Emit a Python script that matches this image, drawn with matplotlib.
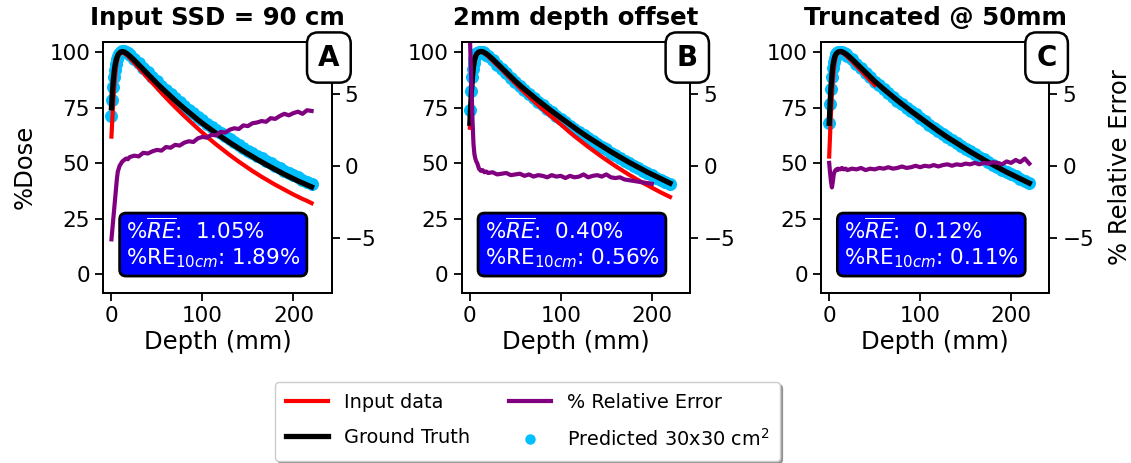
import matplotlib
matplotlib.use("Agg")
import matplotlib.pyplot as plt
from matplotlib.lines import Line2D

# ---------------- data ----------------
depth = [0, 1, 2, 3, 4, 5, 6, 7, 8, 9, 10, 12, 14, 16, 18, 20,
         25, 30, 35, 40, 45, 50, 55, 60, 65, 70, 75, 80, 85, 90, 95, 100,
         105, 110, 115, 120, 125, 130, 135, 140, 145, 150, 155, 160, 165, 170, 175, 180,
         185, 190, 195, 200, 205, 210, 215, 220]

gt_a = [75.0, 82.0, 87.5, 91.5, 94.3, 96.3, 97.7, 98.7, 99.4, 99.8, 100.1, 100.4, 100.2, 99.7, 99.1, 98.4,
        96.5, 94.4, 92.3, 90.2, 88.1, 86.0, 84.0, 82.1, 80.2, 78.3, 76.5, 74.7, 73.0, 71.3, 69.6, 68.0,
        66.5, 65.0, 63.5, 62.1, 60.7, 59.3, 58.0, 56.7, 55.4, 54.2, 53.0, 51.7, 50.6, 49.4, 48.3, 47.2,
        46.1, 45.0, 44.0, 43.0, 42.0, 41.1, 40.2, 39.3]

gt_bc = [68.0, 77.0, 84.5, 90.0, 93.8, 96.3, 97.9, 98.9, 99.5, 99.9, 100.2, 100.4, 100.3, 99.9, 99.4, 98.8,
         97.0, 95.0, 93.0, 91.0, 89.0, 87.0, 85.2, 83.4, 81.7, 80.0, 78.3, 76.7, 75.1, 73.5, 72.0, 70.5,
         69.0, 67.5, 66.0, 64.5, 63.1, 61.7, 60.4, 59.1, 57.8, 56.5, 55.2, 54.0, 52.8, 51.6, 50.4, 49.3,
         48.2, 47.1, 46.0, 45.0, 44.0, 43.0, 42.0, 41.0]

pred_a = [71.2, 78.4, 84.3, 88.8, 92.1, 94.8, 96.8, 98.3, 99.2, 99.8, 100.2, 100.7, 100.6, 100.2, 99.5, 99.0,
          97.2, 95.0, 93.1, 91.0, 89.0, 86.9, 84.9, 83.2, 81.2, 79.4, 77.6, 75.9, 74.2, 72.5, 70.9, 69.4,
          67.8, 66.4, 64.8, 63.6, 62.1, 60.8, 59.5, 58.1, 57.0, 55.7, 54.6, 53.3, 52.2, 50.9, 49.9, 48.7,
          47.7, 46.6, 45.5, 44.6, 43.6, 42.6, 41.7, 40.8]

pred_b = [74.1, 82.4, 88.7, 92.7, 95.2, 97.1, 98.4, 99.2, 99.7, 99.9, 100.0, 100.2, 100.0, 99.5, 99.0, 98.3,
          96.6, 94.4, 92.5, 90.5, 88.4, 86.5, 84.7, 82.8, 81.2, 79.4, 77.8, 76.2, 74.5, 73.0, 71.5, 70.0,
          68.4, 67.0, 65.4, 64.0, 62.7, 61.2, 60.0, 58.7, 57.3, 56.2, 54.8, 53.5, 52.3, 51.1, 49.9, 48.8,
          47.7, 46.6, 45.5, 44.5, 43.5, 42.5, 41.5, 40.6]

pred_c = [68.1, 76.5, 83.5, 88.7, 92.8, 95.7, 97.5, 98.6, 99.3, 99.6, 100.0, 100.2, 100.2, 99.7, 99.2, 98.5,
          96.8, 94.8, 92.9, 90.7, 88.8, 86.8, 85.1, 83.3, 81.6, 79.8, 78.2, 76.6, 75.0, 73.5, 72.0, 70.4,
          69.0, 67.4, 66.0, 64.5, 63.2, 61.8, 60.4, 59.1, 57.8, 56.6, 55.3, 54.1, 52.8, 51.7, 50.5, 49.4,
          48.3, 47.1, 46.2, 45.1, 44.1, 43.1, 42.2, 41.1]

input_a = [62.0, 70.0, 78.0, 84.5, 89.5, 93.2, 95.8, 97.6, 98.8, 99.5, 99.9, 100.0, 99.6, 99.0, 98.3, 97.5,
           95.3, 93.0, 90.7, 88.4, 86.2, 84.0, 81.7, 79.5, 77.4, 75.3, 73.3, 71.3, 69.4, 67.5, 65.6, 63.8,
           62.0, 60.2, 58.5, 56.9, 55.3, 53.7, 52.2, 50.7, 49.3, 47.9, 46.5, 45.2, 43.9, 42.7, 41.5, 40.3,
           39.2, 38.1, 37.0, 35.9, 34.9, 33.9, 33.0, 32.0]

input_b = [66.0, 74.0, 81.5, 87.5, 92.0, 95.0, 97.2, 98.6, 99.4, 99.8, 100.0, 100.3, 100.1, 99.6, 98.9, 98.2,
           96.2, 94.2, 92.2, 90.1, 88.0, 86.0, 83.9, 81.9, 80.0, 78.1, 76.2, 74.4, 72.6, 70.9, 69.2, 67.5,
           65.7, 63.9, 62.2, 60.6, 59.0, 57.4, 55.9, 54.4, 52.9, 51.5, 50.1, 48.7, 47.4, 46.1, 44.8, 43.6,
           42.4, 41.2, 40.1, 39.0, 37.9, 36.8, 35.8, 34.8]

depth_c_input = [0, 1, 2, 3, 4, 5, 6, 7, 8, 9, 10, 12, 14, 16, 18, 20, 25, 30, 35, 40, 45, 50]
input_c = [53.0, 63.0, 73.0, 81.0, 87.5, 92.0, 95.3, 97.5, 98.8, 99.6, 100.0, 100.3, 100.0, 99.4, 98.7, 98.0,
           96.0, 93.8, 91.7, 89.5, 87.4, 85.3]

re_a = [-5.1, -4.4, -3.7, -3.0, -2.3, -1.6, -0.9, -0.4, -0.2, 0.0, 0.1, 0.3, 0.4, 0.5, 0.45, 0.6,
        0.7, 0.65, 0.9, 0.85, 1.0, 1.1, 1.05, 1.3, 1.25, 1.45, 1.4, 1.6, 1.7, 1.65, 1.9, 2.0,
        1.95, 2.15, 2.1, 2.35, 2.3, 2.5, 2.6, 2.55, 2.8, 2.75, 2.95, 3.0, 3.1, 3.05, 3.3, 3.25,
        3.45, 3.6, 3.5, 3.65, 3.75, 3.6, 3.85, 3.8]

depth_b_re = [0, 1, 2, 3, 4, 5, 6, 7, 8, 9, 10, 12, 14, 16, 18, 20,
              25, 30, 35, 40, 45, 50, 55, 60, 65, 70, 75, 80, 85, 90, 95, 100,
              105, 110, 115, 120, 125, 130, 135, 140, 145, 150, 155, 160, 165, 170, 175, 180,
              185, 190, 195, 200]
re_b = [9.0, 7.0, 5.0, 3.0, 1.5, 0.8, 0.5, 0.3, 0.2, 0.0, -0.2, -0.35, -0.3, -0.45, -0.4, -0.5,
        -0.45, -0.6, -0.55, -0.5, -0.65, -0.6, -0.55, -0.7, -0.6, -0.75, -0.65, -0.7, -0.8, -0.65, -0.75, -0.7,
        -0.85, -0.7, -0.8, -0.75, -0.6, -0.8, -0.7, -0.65, -0.75, -0.6, -0.8, -0.85, -0.8, -0.95, -1.0, -1.05,
        -1.1, -1.15, -1.2, -1.25]

re_c = [0.2, -0.5, -1.1, -1.5, -1.1, -0.6, -0.4, -0.3, -0.25, -0.3, -0.2, -0.25, -0.15, -0.25, -0.2, -0.3,
        -0.2, -0.25, -0.15, -0.3, -0.2, -0.25, -0.15, -0.2, -0.1, -0.2, -0.15, -0.05, -0.15, -0.1, 0.0, -0.1,
        0.0, -0.05, 0.05, -0.05, 0.05, 0.1, 0.0, 0.1, 0.05, 0.15, 0.1, 0.2, 0.1, 0.2, 0.15, 0.25,
        0.2, 0.1, 0.3, 0.2, 0.4, 0.25, 0.5, 0.15]

titles = ["Input SSD = 90 cm", "2mm depth offset", "Truncated @ 50mm"]
letters = ["A", "B", "C"]
mean_re = ["1.05", "0.40", "0.12"]
re_10cm = ["1.89", "0.56", "0.11"]

panels = [
    dict(inp_x=depth, inp=input_a, gt=gt_a, pred=pred_a, re_x=depth, re=re_a),
    dict(inp_x=depth, inp=input_b, gt=gt_bc, pred=pred_b, re_x=depth_b_re, re=re_b),
    dict(inp_x=depth_c_input, inp=input_c, gt=gt_bc, pred=pred_c, re_x=depth, re=re_c),
]

# ---------------- styling ----------------
RED = "#ff0000"
PURPLE = "#800080"
CYAN = "#00bfff"
TICK_FS = 15.5
LABEL_FS = 17.5
TITLE_FS = 17.6

plt.rcParams["font.family"] = ["DejaVu Sans"]
plt.rcParams["axes.linewidth"] = 1.3

fig = plt.figure(figsize=(11.31, 4.63), dpi=100)

lefts = [0.0913, 0.4082, 0.7259]
bottom, width, height = 0.3678, 0.2019, 0.5421

for i, p in enumerate(panels):
    ax = fig.add_axes([lefts[i], bottom, width, height])
    ax.scatter(depth, p["pred"], s=88, color=CYAN, zorder=2, linewidths=0)
    ax.plot(p["inp_x"], p["inp"], color=RED, lw=3.0, zorder=3)
    ax.plot(depth, p["gt"], color="black", lw=3.8, zorder=4)
    ax.set_xlim(-9, 242)
    ax.set_ylim(-8.4, 104.8)
    ax.set_xticks([0, 100, 200])
    ax.set_yticks([0, 25, 50, 75, 100])
    ax.tick_params(labelsize=TICK_FS, length=6, width=1.3)
    ax.set_xlabel("Depth (mm)", fontsize=LABEL_FS, labelpad=3)
    ax.set_title(titles[i], fontsize=TITLE_FS, fontweight="bold", pad=12)
    if i == 0:
        ax.set_ylabel("%Dose", fontsize=LABEL_FS, labelpad=9)

    ax2 = ax.twinx()
    ax2.plot(p["re_x"], p["re"], color=PURPLE, lw=3.0)
    ax2.set_ylim(-8.8, 8.6)
    ax2.set_yticks([-5, 0, 5])
    ax2.tick_params(labelsize=TICK_FS, length=6, width=1.3)
    if i == 2:
        ax2.set_ylabel("% Relative Error", fontsize=LABEL_FS, labelpad=10)

    txt = ("%$\\overline{RE}$:  " + mean_re[i] + "%\n"
           "%RE$_{10cm}$: " + re_10cm[i] + "%")
    ax2.text(0.1, 0.195, txt, transform=ax2.transAxes, ha="left", va="center",
             fontsize=15.5, color="white", linespacing=1.15, zorder=10,
             bbox=dict(boxstyle="round,pad=0.3", fc="#0000ff", ec="black", lw=2))
    ax2.text(0.988, 0.937, letters[i], transform=ax2.transAxes, ha="center", va="center",
             fontsize=20, fontweight="bold", zorder=10, clip_on=False,
             bbox=dict(boxstyle="round,pad=0.4", fc="white", ec="black", lw=1.8))

handles = [
    Line2D([], [], color=RED, lw=3.0),
    Line2D([], [], color="black", lw=3.8),
    Line2D([], [], color=PURPLE, lw=3.0),
    Line2D([], [], color=CYAN, marker="o", ls="none", markersize=7.5, markeredgewidth=0),
]
labels = ["Input data", "Ground Truth", "% Relative Error", "Predicted 30x30 cm$^2$"]
fig.legend(handles, labels, ncol=2, loc="upper center", bbox_to_anchor=(0.4664, 0.175),
           fontsize=13.9, shadow=True, labelspacing=0.85, columnspacing=2.0,
           handlelength=2.2, borderpad=0.55, borderaxespad=0.0)

fig.savefig("out.png", dpi=100)
